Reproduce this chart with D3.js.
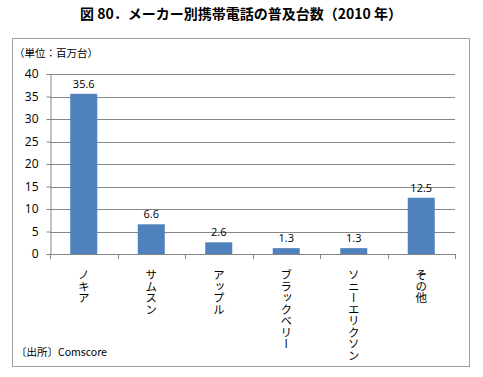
<!DOCTYPE html>
<html><head><meta charset="utf-8">
<script src="https://cdn.jsdelivr.net/npm/d3@7"></script>
<style>
body{margin:0;background:#fff;}
text{font-family:"Noto Sans CJK JP","Noto Sans",sans-serif;}
</style></head>
<body><svg id="c" width="483" height="377"></svg>
<script>
const categories = ["ノキア","サムスン","アップル","ブラックベリー","ソニーエリクソン","その他"];
const values = [35.6, 6.6, 2.6, 1.3, 1.3, 12.5];
const valueLabels = ["35.6","6.6","2.6","1.3","1.3","12.5"];
const yTicks = [0,5,10,15,20,25,30,35,40];
const title = "図 80．メーカー別携帯電話の普及台数（2010 年）";
const unitLabel = "（単位：百万台）";
const sourceLabel = "〔出所〕Comscore";

const svg = d3.select("#c");
const W = 483, H = 377;
const m = {left:50, right:28, top:74, bottom:123};
const x = d3.scaleBand().domain(categories).range([m.left, W - m.right]).paddingInner(0.6).paddingOuter(0.3);
const y = d3.scaleLinear().domain([0,40]).range([H - m.bottom, m.top]);

// title
svg.append("text").attr("x", 241).attr("y", 19).attr("text-anchor","middle")
  .attr("font-size", 14).attr("font-weight","bold").attr("fill","#000").text(title);

// frame
svg.append("rect").attr("x",12.5).attr("y",38.5).attr("width",457).attr("height",328)
  .attr("fill","none").attr("stroke","#a0a0a0").attr("stroke-width",1);

svg.append("text").attr("x",14).attr("y",57).attr("font-size",10.5).attr("fill","#000").text(unitLabel);
svg.append("text").attr("x",16).attr("y",356).attr("font-size",10.5).attr("fill","#000").text(sourceLabel);

// gridlines
svg.append("g").selectAll("line").data(yTicks.filter(d=>d>0)).join("line")
  .attr("x1", m.left).attr("x2", W - m.right)
  .attr("y1", d=>Math.round(y(d))+0.5).attr("y2", d=>Math.round(y(d))+0.5)
  .attr("stroke","#868686").attr("stroke-width",1);

// y axis
const yAxis = d3.axisLeft(y).tickValues(yTicks).tickSize(4).tickPadding(8);
const gy = svg.append("g").attr("transform",`translate(${m.left+0.5},0)`).call(yAxis);
gy.select(".domain").attr("stroke","#868686");
gy.selectAll(".tick line").attr("stroke","#868686");
gy.selectAll(".tick text").attr("font-size",12).attr("fill","#000")
  .style("font-family","'Open Sans','Noto Sans',sans-serif");

// bars
svg.append("g").selectAll("rect").data(values).join("rect")
  .attr("x",(d,i)=>x(categories[i])).attr("width",x.bandwidth())
  .attr("y",d=>y(d)).attr("height",d=>y(0)-y(d)).attr("fill","#4f81bd");

// x axis
const bounds = d3.range(categories.length+1).map(i => m.left + i*(W - m.right - m.left)/categories.length);
svg.append("line").attr("x1",m.left).attr("x2",W-m.right).attr("y1",Math.round(y(0))+0.5).attr("y2",Math.round(y(0))+0.5)
  .attr("stroke","#868686");
svg.append("g").selectAll("line").data(bounds).join("line")
  .attr("x1",d=>Math.round(d)+0.5).attr("x2",d=>Math.round(d)+0.5)
  .attr("y1",Math.round(y(0))).attr("y2",Math.round(y(0))+5).attr("stroke","#868686");

// value labels
svg.append("g").selectAll("text").data(values).join("text")
  .attr("x",(d,i)=>x(categories[i])+x.bandwidth()/2).attr("y",d=>y(d)-6)
  .attr("text-anchor","middle").attr("font-size",11).attr("fill","#000")
  .style("font-family","'Open Sans','Noto Sans',sans-serif")
  .text((d,i)=>valueLabels[i]);

// category labels (vertical)
svg.append("g").selectAll("text").data(categories).join("text")
  .attr("x",d=>x(d)+x.bandwidth()/2).attr("y",y(0)+15)
  .attr("font-size",11.5).attr("fill","#000")
  .style("writing-mode","vertical-rl").style("text-orientation","upright")
  .attr("text-anchor","start")
  .text(d=>d);
</script></body></html>
